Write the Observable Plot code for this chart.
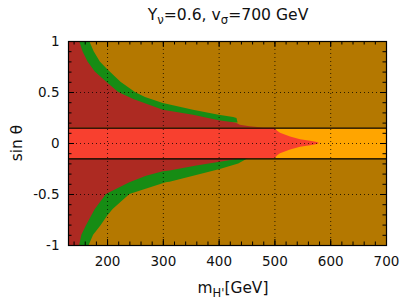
<!DOCTYPE html>
<html>
<head>
<meta charset="utf-8">
<script src="https://cdn.jsdelivr.net/npm/d3@7"></script>
<script src="https://cdn.jsdelivr.net/npm/@observablehq/plot@0.6"></script>
<style>
  html, body { margin: 0; padding: 0; background: #fff; }
  svg { font-family: "DejaVu Sans", sans-serif; }
</style>
</head>
<body>
<div id="chart"></div>
<script>
// ---- data : [sinθ, m_H' (GeV)] ----
const upperOuter = [[1.0,168],[0.9,176],[0.8,187],[0.725,200],[0.6,224],[0.5,250],[0.45,268],[0.392,300],[0.326,354],[0.277,400],[0.255,426],[0.245,432],[0.2,434]];
const upperInner = [[1.0,150],[0.9,156],[0.8,165],[0.7,178],[0.594,200],[0.5,220],[0.431,247],[0.326,300],[0.277,354],[0.222,400],[0.203,426],[0.195,432],[0.18,438],[0.165,455],[0.155,474],[0.15,480]];
const lowerOuter = [[-1.0,167],[-0.9,175],[-0.81,188],[-0.713,200],[-0.647,210],[-0.5,240],[-0.386,305],[-0.38,312],[-0.255,402],[-0.2,435],[-0.15,452]];
const lowerInner = [[-1.0,150],[-0.9,154],[-0.81,162],[-0.647,178],[-0.5,198],[-0.386,240],[-0.32,270],[-0.278,300],[-0.27,312],[-0.22,360],[-0.183,402],[-0.16,430],[-0.15,455]];
const bandRed = [[-0.15,500],[-0.12,505],[-0.1,510],[-0.063,528],[-0.037,546],[-0.023,564],[-0.01,576],[0,580],[0.01,576],[0.023,564],[0.037,546],[0.063,528],[0.1,510],[0.12,505],[0.15,500]];
const bandEdges = [-0.15, 0.15];
const xDomain = [130, 700];
const yDomain = [-1, 1];
const xMajor = [200, 300, 400, 500, 600, 700];
const xMinor = d3.range(140, 700, 20);
const yMajor = [-1, -0.5, 0, 0.5, 1];
const yMinor = [-0.9,-0.8,-0.7,-0.6,-0.4,-0.3,-0.2,-0.1,0.1,0.2,0.3,0.4,0.6,0.7,0.8,0.9];
const xGrid = [200, 300, 400, 500, 600];
const yGrid = [-0.5, 0, 0.5];
const xLabels = ["200","300","400","500","600","700"];
const yLabels = ["-1","-0.5","0","0.5","1"];

const colors = {gold: "#b47800", darkRed: "#ad2a22", green: "#168c14", red: "#f8402f", orange: "#ffa500"};

const W = 407, H = 307, mL = 68, mR = 21, mT = 41, mB = 62;
const plotH = H - mT - mB, plotW = W - mL - mR;
const majorLen = 6, minorLen = 3.5;

const x0 = () => xDomain[0];

const svg = Plot.plot({
  width: W, height: H,
  marginLeft: mL, marginRight: mR, marginTop: mT, marginBottom: mB,
  x: {domain: xDomain, axis: null},
  y: {domain: yDomain, axis: null},
  style: {fontFamily: "DejaVu Sans, sans-serif", background: "#fff"},
  marks: [
    Plot.frame({fill: colors.gold, stroke: null}),
    Plot.areaX(upperOuter, {y: d => d[0], x1: x0, x2: d => d[1], fill: colors.green}),
    Plot.areaX(lowerOuter, {y: d => d[0], x1: x0, x2: d => d[1], fill: colors.green}),
    Plot.areaX(upperInner, {y: d => d[0], x1: x0, x2: d => d[1], fill: colors.darkRed}),
    Plot.areaX(lowerInner, {y: d => d[0], x1: x0, x2: d => d[1], fill: colors.darkRed}),
    Plot.rect([0], {x1: () => xDomain[0], x2: () => xDomain[1], y1: () => bandEdges[0], y2: () => bandEdges[1], fill: colors.orange}),
    Plot.areaX(bandRed, {y: d => d[0], x1: x0, x2: d => d[1], fill: colors.red}),
    // dotted grid
    Plot.ruleX(xGrid, {x: d => d, stroke: "#000", strokeOpacity: 0.75, strokeDasharray: "1,3"}),
    Plot.ruleY(yGrid, {y: d => d, stroke: "#000", strokeOpacity: 0.75, strokeDasharray: "1,3"}),
    // band edges
    Plot.ruleY(bandEdges, {y: d => d, stroke: "#000", strokeWidth: 1.3}),
    // inward ticks
    Plot.tickX(xMajor, {x: d => d, insetTop: plotH - majorLen, stroke: "#000"}),
    Plot.tickX(xMajor, {x: d => d, insetBottom: plotH - majorLen, stroke: "#000"}),
    Plot.tickX(xMinor, {x: d => d, insetTop: plotH - minorLen, stroke: "#000"}),
    Plot.tickX(xMinor, {x: d => d, insetBottom: plotH - minorLen, stroke: "#000"}),
    Plot.tickY(yMajor, {y: d => d, insetRight: plotW - majorLen, stroke: "#000"}),
    Plot.tickY(yMajor, {y: d => d, insetLeft: plotW - majorLen, stroke: "#000"}),
    Plot.tickY(yMinor, {y: d => d, insetRight: plotW - minorLen, stroke: "#000"}),
    Plot.tickY(yMinor, {y: d => d, insetLeft: plotW - minorLen, stroke: "#000"}),
    Plot.frame({stroke: "#000", strokeWidth: 1.2}),
    // tick labels
    Plot.text(xMajor, {x: d => d, text: (d, i) => xLabels[i], frameAnchor: "bottom", lineAnchor: "top", dy: 11, fontSize: 13.5, fill: "#111"}),
    Plot.text(yMajor, {y: d => d, text: (d, i) => yLabels[i], frameAnchor: "left", textAnchor: "end", dx: -9, fontSize: 13.5, fill: "#111"})
  ]
});

const s = d3.select(svg);
function rich(parts, attrs) {
  const t = s.append("text");
  for (const [k, v] of Object.entries(attrs)) t.attr(k, v);
  let shifted = false;
  for (const [str, kind] of parts) {
    const sp = t.append("tspan").text(str);
    if (kind === "sub" && !shifted) { sp.attr("dy", 4).attr("font-size", "75%"); shifted = true; }
    else if (kind !== "sub" && shifted) { sp.attr("dy", -4); shifted = false; }
    else if (kind === "sub") sp.attr("font-size", "75%");
  }
  return t;
}
rich([["Y"],["ν","sub"],["=0.6, v"],["σ","sub"],["=700 GeV"]],
     {x: 228, y: 19.5, "text-anchor": "middle", "font-size": 15.6, fill: "#111"});
rich([["m"],["H'","sub"],["[GeV]"]],
     {x: 233, y: 293, "text-anchor": "middle", "font-size": 15.4, fill: "#111"});
s.append("text").attr("transform", "translate(22,143) rotate(-90)")
  .attr("text-anchor", "middle").attr("font-size", 15.4).attr("fill", "#111").text("sin θ");

document.getElementById("chart").appendChild(svg);
</script>
</body>
</html>
